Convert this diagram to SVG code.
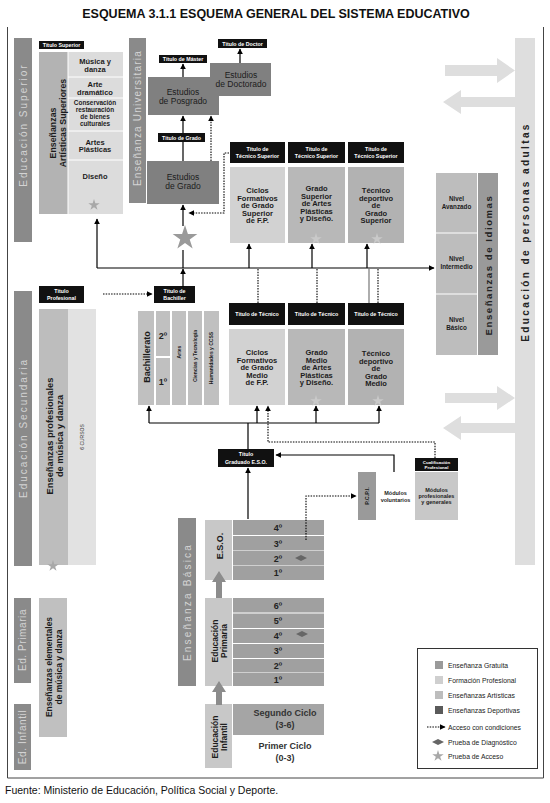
<svg xmlns="http://www.w3.org/2000/svg" xmlns:xlink="http://www.w3.org/1999/xlink" width="550" height="803" viewBox="0 0 550 803">
<style>
text{font-family:'Liberation Sans',Arial,sans-serif;}
.ttl{font-size:12.5px;font-weight:bold;fill:#111;}
.w{font-size:5.3px;font-weight:bold;fill:#fff;text-anchor:middle;}
.l{font-size:7.5px;font-weight:bold;fill:#1c1c1c;text-anchor:middle;}
.s{font-size:6.4px;}
.m{font-size:8.5px;fill:#1c1c1c;text-anchor:middle;}
.bar{font-size:10px;fill:#d4d4d4;text-anchor:middle;letter-spacing:2px;}
.bar2{font-size:9.5px;font-weight:bold;fill:#222;text-anchor:middle;letter-spacing:1.6px;}
.big{font-size:8.8px;font-weight:bold;fill:#1c1c1c;text-anchor:middle;}
.yr{font-size:9px;font-weight:bold;fill:#222;text-anchor:middle;}
.leg{font-size:6.8px;fill:#222;}
.blk{fill:#111;}
.ln{stroke:#000;stroke-width:1.2;fill:none;}
.dt{stroke:#000;stroke-width:1.1;fill:none;stroke-dasharray:1.5 1.2;}
.star{fill:#a8a8a8;}
.lst{fill:#c9c9c9;}
</style>
<defs>
<marker id="ah" viewBox="0 0 10 10" refX="9" refY="5" markerWidth="6" markerHeight="6" markerUnits="userSpaceOnUse" orient="auto"><path d="M0,0 L10,5 L0,10z" fill="#000"/></marker>
<path id="st" d="M0,-1 L0.2245,-0.309 L0.951,-0.309 L0.363,0.118 L0.588,0.809 L0,0.382 L-0.588,0.809 L-0.363,0.118 L-0.951,-0.309 L-0.2245,-0.309Z"/>
<path id="dia" d="M-6,0 L0,-3 L6,0 L0,3Z" fill="#666"/>
</defs>
<rect width="550" height="803" fill="#fff"/>
<text class="ttl" x="276" y="18" text-anchor="middle">ESQUEMA 3.1.1 ESQUEMA GENERAL DEL SISTEMA EDUCATIVO</text>
<path d="M7.5,27 V778 H543.5 V27" fill="none" stroke="#444" stroke-width="1"/>

<!-- left stage bars -->
<g id="ed-superior"><rect x="14" y="38" width="18" height="204" fill="#8a8a8a"/><text class="bar" transform="translate(26.5,125) rotate(-90)">Educación Superior</text></g>
<g id="ed-secundaria"><rect x="14" y="291" width="18" height="275" fill="#8a8a8a"/><text class="bar" transform="translate(26.5,428) rotate(-90)">Educación Secundaria</text></g>
<g id="ed-primaria"><rect x="14" y="598" width="17" height="85" fill="#8a8a8a"/><text class="bar" style="letter-spacing:0.6px" transform="translate(26,640) rotate(-90)">Ed. Primaria</text></g>
<g id="ed-infantil"><rect x="14" y="704" width="17" height="66" fill="#8a8a8a"/><text class="bar" style="letter-spacing:0.6px" transform="translate(26,737) rotate(-90)">Ed. Infantil</text></g>

<!-- Enseñanzas artísticas superiores -->
<g id="titulo-superior"><rect class="blk" x="39" y="41" width="45" height="8"/><text class="w" x="61.5" y="47">Título Superior</text></g>
<g id="artisticas-superiores">
<rect x="39" y="52" width="29" height="162" fill="#b3b3b3"/>
<rect x="68" y="52" width="55" height="162" fill="#dcdcdc"/>
<g stroke="#fff" stroke-width="1"><line x1="68" y1="77" x2="123" y2="77"/><line x1="68" y1="98" x2="123" y2="98"/><line x1="68" y1="131" x2="123" y2="131"/><line x1="68" y1="160" x2="123" y2="160"/><line x1="68" y1="52" x2="68" y2="214"/></g>
<text class="big" transform="translate(56,133) rotate(-90)">Enseñanzas</text>
<text class="big" transform="translate(65.5,123) rotate(-90)">Artísticas Superiores</text>
<text class="l" x="95" y="64">Música y</text><text class="l" x="95" y="71.5">danza</text>
<text class="l" x="95" y="87">Arte</text><text class="l" x="95" y="94.5">dramático</text>
<text class="l s" x="95" y="105">Conservación</text><text class="l s" x="95" y="112">restauración</text><text class="l s" x="95" y="119">de bienes</text><text class="l s" x="95" y="126">culturales</text>
<text class="l" x="95" y="144.5">Artes</text><text class="l" x="95" y="152">Plásticas</text>
<text class="l" x="95" y="179">Diseño</text>
<use xlink:href="#st" class="star" transform="translate(94,205) scale(6)"/>
</g>

<!-- Universitaria -->
<g id="ens-universitaria"><rect x="129" y="38" width="17" height="165" fill="#8a8a8a"/><text class="bar" style="letter-spacing:1.2px" transform="translate(141,118) rotate(-90)">Enseñanza Universitaria</text></g>
<g id="posgrado-doctorado">
<path d="M148,77 H210 V63 H271 V96 H219 V115 H148Z" fill="#808080"/>
<text class="m" x="183" y="95">Estudios</text><text class="m" x="183" y="104">de Posgrado</text>
<text class="m" x="241" y="78">Estudios</text><text class="m" x="241" y="87">de Doctorado</text>
</g>
<g id="titulo-master"><rect class="blk" x="159" y="55" width="48" height="8"/><text class="w" x="183" y="61">Título de Máster</text></g>
<g id="titulo-doctor"><rect class="blk" x="218" y="39" width="49" height="9"/><text class="w" x="242.5" y="45.5">Título de Doctor</text></g>
<g id="titulo-grado"><rect class="blk" x="158" y="133" width="47" height="9"/><text class="w" x="181.5" y="139.5">Título de Grado</text></g>
<g id="estudios-grado"><rect x="147" y="161" width="72" height="43" fill="#808080"/><text class="m" x="183" y="180">Estudios</text><text class="m" x="183" y="189">de Grado</text></g>
<g id="prueba-acceso-grado"><use xlink:href="#st" fill="#9a9a9a" transform="translate(185,238) scale(13)"/></g>

<!-- Técnico superior -->
<g id="ts-fp"><rect class="blk" x="230" y="142" width="55" height="21"/><text class="w" x="257.5" y="151">Título de</text><text class="w" x="257.5" y="158">Técnico Superior</text>
<rect x="230" y="167" width="55" height="76" fill="#d2d2d2"/>
<text class="l" x="257.5" y="193">Ciclos</text><text class="l" x="257.5" y="200.5">Formativos</text><text class="l" x="257.5" y="208">de Grado</text><text class="l" x="257.5" y="215.5">Superior</text><text class="l" x="257.5" y="223">de F.P.</text></g>
<g id="ts-artes"><rect class="blk" x="288" y="142" width="57" height="21"/><text class="w" x="316.5" y="151">Título de</text><text class="w" x="316.5" y="158">Técnico Superior</text>
<rect x="288" y="167" width="57" height="76" fill="#b8b8b8"/>
<text class="l" x="316.5" y="191">Grado</text><text class="l" x="316.5" y="198.5">Superior</text><text class="l" x="316.5" y="206">de Artes</text><text class="l" x="316.5" y="213.5">Plásticas</text><text class="l" x="316.5" y="221">y Diseño.</text>
<use xlink:href="#st" class="lst" transform="translate(316,239) scale(6)"/></g>
<g id="ts-deportivo"><rect class="blk" x="348" y="142" width="56" height="21"/><text class="w" x="376" y="151">Título de</text><text class="w" x="376" y="158">Técnico Superior</text>
<rect x="348" y="167" width="56" height="76" fill="#b2b2b2"/>
<text class="l" x="376" y="193">Técnico</text><text class="l" x="376" y="200.5">deportivo</text><text class="l" x="376" y="208">de</text><text class="l" x="376" y="215.5">Grado</text><text class="l" x="376" y="223">Superior</text>
<use xlink:href="#st" class="lst" transform="translate(377,239) scale(6)"/></g>

<!-- Idiomas -->
<g id="idiomas">
<rect x="436" y="173" width="41" height="182" fill="#bdbdbd"/>
<g stroke="#fff" stroke-width="1"><line x1="436" y1="233" x2="477" y2="233"/><line x1="436" y1="294" x2="477" y2="294"/></g>
<rect x="478" y="173" width="20" height="182" fill="#9a9a9a"/>
<text class="l" style="font-size:6.3px" x="456.5" y="201">Nivel</text><text class="l" style="font-size:6.3px" x="456.5" y="209">Avanzado</text>
<text class="l" style="font-size:6.3px" x="456.5" y="261">Nivel</text><text class="l" style="font-size:6.3px" x="456.5" y="269">Intermedio</text>
<text class="l" style="font-size:6.3px" x="456.5" y="322">Nivel</text><text class="l" style="font-size:6.3px" x="456.5" y="330">Básico</text>
<text class="bar2" transform="translate(491.5,265) rotate(-90)">Enseñanzas de Idiomas</text>
</g>

<!-- Adultos -->
<g id="adultos">
<rect x="515" y="38" width="20" height="527" fill="#dedede"/>
<path d="M445,65 H497 V58 L515,70.5 L497,83 V76 H445Z" fill="#dedede"/>
<path d="M515,97 H461 V90 L443,102 L461,114 V107 H515Z" fill="#dedede"/>
<path d="M445,393 H497 V386 L515,398 L497,410 V403 H445Z" fill="#dedede"/>
<path d="M515,423 H461 V416 L443,428 L461,440 V433 H515Z" fill="#dedede"/>
<text class="bar2" style="letter-spacing:2.4px;font-size:10px" transform="translate(528.5,232) rotate(-90)">Educación de personas adultas</text>
</g>

<!-- Secundaria -->
<g id="titulo-profesional"><rect class="blk" x="39" y="286" width="45" height="17"/><text class="w" x="61.5" y="293">Título</text><text class="w" x="61.5" y="300">Profesional</text></g>
<g id="titulo-bachiller"><rect class="blk" x="154" y="286" width="41" height="17"/><text class="w" x="174.5" y="293">Título de</text><text class="w" x="174.5" y="300">Bachiller</text></g>
<g id="profesionales-musica">
<rect x="39" y="309" width="29" height="256" fill="#bdbdbd"/>
<rect x="68" y="309" width="28" height="256" fill="#e2e2e2"/>
<text class="big" style="font-size:9.3px" transform="translate(52.5,436) rotate(-90)">Enseñanzas profesionales</text>
<text class="big" style="font-size:9.3px" transform="translate(62.5,436) rotate(-90)">de música y danza</text>
<text class="w" style="fill:#333;font-weight:normal;font-size:5px" transform="translate(84,437) rotate(-90)">6 CURSOS</text>
<use xlink:href="#st" class="star" transform="translate(53,566) scale(6)"/>
</g>
<g id="bachillerato">
<rect x="138" y="311" width="16" height="94" fill="#c0c0c0"/>
<rect x="156" y="311" width="14" height="45" fill="#c0c0c0"/>
<rect x="156" y="358" width="14" height="47" fill="#c0c0c0"/>
<rect x="172" y="311" width="14" height="94" fill="#c0c0c0"/>
<rect x="188" y="311" width="14" height="94" fill="#c0c0c0"/>
<rect x="204" y="311" width="15" height="94" fill="#c0c0c0"/>
<text class="big" style="font-size:9px" transform="translate(149.5,357) rotate(-90)">Bachillerato</text>
<text class="yr" x="163" y="339">2º</text><text class="yr" x="163" y="385">1º</text>
<text class="l" style="font-size:5px" transform="translate(180.5,352) rotate(-90)">Artes</text>
<text class="l" style="font-size:5px" transform="translate(196.5,356) rotate(-90)">Ciencias y Tecnología</text>
<text class="l" style="font-size:5px" transform="translate(213,358) rotate(-90)">Humanidades y CCSS</text>
</g>

<!-- Técnico (grado medio) -->
<g id="tm-fp"><rect class="blk" x="229" y="303" width="56" height="22"/><text class="w" x="257" y="316">Título de Técnico</text>
<rect x="229" y="329" width="56" height="76" fill="#d2d2d2"/>
<text class="l" x="257" y="355">Ciclos</text><text class="l" x="257" y="362.5">Formativos</text><text class="l" x="257" y="370">de Grado</text><text class="l" x="257" y="377.5">Medio</text><text class="l" x="257" y="385">de F.P.</text></g>
<g id="tm-artes"><rect class="blk" x="288" y="303" width="57" height="22"/><text class="w" x="316.5" y="316">Título de Técnico</text>
<rect x="288" y="329" width="57" height="76" fill="#b8b8b8"/>
<text class="l" x="316.5" y="355">Grado</text><text class="l" x="316.5" y="362.5">Medio</text><text class="l" x="316.5" y="370">de Artes</text><text class="l" x="316.5" y="377.5">Plásticas</text><text class="l" x="316.5" y="385">y Diseño.</text>
<use xlink:href="#st" class="lst" transform="translate(316,401) scale(6)"/></g>
<g id="tm-deportivo"><rect class="blk" x="348" y="303" width="56" height="22"/><text class="w" x="376" y="316">Título de Técnico</text>
<rect x="348" y="329" width="56" height="76" fill="#b2b2b2"/>
<text class="l" x="376" y="356">Técnico</text><text class="l" x="376" y="363.5">deportivo</text><text class="l" x="376" y="371">de</text><text class="l" x="376" y="378.5">Grado</text><text class="l" x="376" y="386">Medio</text>
<use xlink:href="#st" class="lst" transform="translate(378,401) scale(6)"/></g>

<!-- ESO area -->
<g id="titulo-eso"><rect class="blk" x="218" y="449" width="56" height="18"/><text class="w" x="246" y="456">Título</text><text class="w" x="246" y="463.5">Graduado E.S.O.</text></g>
<g id="cualificacion"><rect class="blk" x="415" y="458" width="43" height="13"/><text class="w" style="font-size:4.4px" x="436.5" y="463.5">Cualificación</text><text class="w" style="font-size:4.4px" x="436.5" y="468.5">Profesional</text></g>
<g id="pcpi">
<rect x="358" y="472" width="18" height="48" fill="#9a9a9a"/>
<rect x="376" y="472" width="39" height="48" fill="#fff"/>
<rect x="415" y="472" width="43" height="48" fill="#c8c8c8"/>
<text class="l" style="font-size:5.5px" transform="translate(369,496) rotate(-90)">P.C.P.I.</text>
<text class="l" style="font-size:5.5px" x="395.5" y="495">Módulos</text><text class="l" style="font-size:5.5px" x="395.5" y="502">voluntarios</text>
<text class="l" style="font-size:5.5px" x="436.5" y="491.5">Módulos</text><text class="l" style="font-size:5.5px" x="436.5" y="497.5">profesionales</text><text class="l" style="font-size:5.5px" x="436.5" y="503.5">y generales</text>
</g>
<g id="ens-basica"><rect x="178" y="518" width="18" height="168" fill="#8a8a8a"/><text class="bar" style="letter-spacing:2.2px" transform="translate(190.5,602) rotate(-90)">Enseñanza Básica</text></g>
<g id="eso">
<rect x="205" y="520" width="27" height="60" fill="#c8c8c8"/>
<rect x="233" y="520" width="91" height="15" fill="#a0a0a0"/>
<rect x="233" y="536" width="91" height="14.5" fill="#a0a0a0"/>
<rect x="233" y="551" width="91" height="14.5" fill="#a0a0a0"/>
<rect x="233" y="566" width="91" height="14" fill="#a0a0a0"/>
<text class="big" style="font-size:9px" transform="translate(222.5,546) rotate(-90)">E.S.O.</text>
<text class="yr" x="278" y="531">4º</text><text class="yr" x="278" y="546.5">3º</text><text class="yr" x="278" y="561.5">2º</text><text class="yr" x="278" y="576">1º</text>
<use xlink:href="#dia" transform="translate(301,558)"/>
</g>
<g id="primaria">
<rect x="205" y="598" width="27" height="88" fill="#c8c8c8"/>
<rect x="233" y="598" width="91" height="14.5" fill="#a0a0a0"/>
<rect x="233" y="613.5" width="91" height="14.5" fill="#a0a0a0"/>
<rect x="233" y="629" width="91" height="14" fill="#a0a0a0"/>
<rect x="233" y="644" width="91" height="14" fill="#a0a0a0"/>
<rect x="233" y="659" width="91" height="13.5" fill="#a0a0a0"/>
<rect x="233" y="673" width="91" height="13" fill="#a0a0a0"/>
<text class="big" style="font-size:8.5px" transform="translate(217.5,641) rotate(-90)">Educación</text>
<text class="big" style="font-size:8.5px" transform="translate(226.5,641) rotate(-90)">Primaria</text>
<text class="yr" x="278" y="608.5">6º</text><text class="yr" x="278" y="623.5">5º</text><text class="yr" x="278" y="639">4º</text><text class="yr" x="278" y="654">3º</text><text class="yr" x="278" y="668.5">2º</text><text class="yr" x="278" y="682.5">1º</text>
<use xlink:href="#dia" transform="translate(302,634)"/>
</g>
<g id="infantil">
<rect x="205" y="704" width="27" height="64" fill="#c8c8c8"/>
<rect x="233" y="704" width="91" height="31" fill="#a5a5a5"/>
<rect x="233" y="735" width="91" height="33" fill="#fff"/>
<text class="big" style="font-size:8.5px" transform="translate(217.5,737) rotate(-90)">Educación</text>
<text class="big" style="font-size:8.5px" transform="translate(226.5,737) rotate(-90)">Infantil</text>
<text class="m" style="font-size:9px;font-weight:bold;fill:#333" x="285" y="716">Segundo Ciclo</text><text class="m" style="font-size:9px;font-weight:bold;fill:#333" x="285" y="728">(3-6)</text>
<text class="m" style="font-size:9px;font-weight:bold;fill:#333" x="285" y="749">Primer Ciclo</text><text class="m" style="font-size:9px;font-weight:bold;fill:#333" x="285" y="761">(0-3)</text>
</g>
<g id="elementales-musica">
<rect x="39" y="598" width="28" height="139" fill="#c0c0c0"/>
<text class="big" style="font-size:8.5px" transform="translate(52,667) rotate(-90)">Enseñanzas elementales</text>
<text class="big" style="font-size:8.5px" transform="translate(61.5,667) rotate(-90)">de música y danza</text>
</g>

<!-- connectors -->
<g id="connectors">
<path class="ln" d="M97,268 V219" marker-end="url(#ah)"/>
<path class="ln" d="M97,268 H434" marker-end="url(#ah)"/>
<path class="ln" d="M183,268 V250"/>
<path class="ln" d="M183,226 V205" marker-end="url(#ah)"/>
<path class="ln" d="M183,161 V142"/>
<path class="ln" d="M183,133 V116" marker-end="url(#ah)"/>
<path class="dt" d="M211,161 V116" marker-end="url(#ah)"/>
<path class="ln" d="M183,77 V64" marker-end="url(#ah)"/>
<path class="ln" d="M240,63 V49" marker-end="url(#ah)"/>
<path class="dt" d="M229,153 H224 V213 H189" marker-end="url(#ah)"/>
<path class="ln" d="M249,268 V244" marker-end="url(#ah)"/>
<path class="ln" d="M312,268 V244" marker-end="url(#ah)"/>
<path class="ln" d="M367,268 V244" marker-end="url(#ah)"/>
<path class="ln" d="M183,287 V269" marker-end="url(#ah)"/>
<path class="dt" d="M103,294 H152" marker-end="url(#ah)"/>
<path class="dt" d="M258,303 V269"/>
<path class="dt" d="M317,303 V269"/>
<path class="dt" d="M378,303 V269"/>
<path d="M369,303 V268" stroke="#777" stroke-width="1.2" fill="none"/>
<path class="ln" d="M149,423 H379"/>
<path class="ln" d="M149,423 V406" marker-end="url(#ah)"/>
<path class="ln" d="M257,423 V406" marker-end="url(#ah)"/>
<path class="ln" d="M316,423 V406" marker-end="url(#ah)"/>
<path class="ln" d="M379,423 V406" marker-end="url(#ah)"/>
<path class="ln" d="M248,449 V423"/>
<path class="dt" d="M435,458 V442 H268 V406" marker-end="url(#ah)"/>
<path class="ln" d="M248,519 V468" marker-end="url(#ah)"/>
<path class="ln" d="M394,472 V455 H276" marker-end="url(#ah)"/>
<path class="dt" d="M306,540 V496 H356" marker-end="url(#ah)"/>
<path d="M216,598 V582 H212 L219,571 L226,582 H222 V598Z" fill="#8c8c8c"/>
<path d="M216,705 V692 H212 L219,681 L226,692 H222 V705Z" fill="#8c8c8c"/>
</g>

<!-- legend -->
<g id="legend">
<rect x="417.5" y="648.5" width="120" height="120" fill="#fff" stroke="#333" stroke-width="1"/>
<rect x="435" y="661" width="8" height="8" fill="#9a9a9a"/><text class="leg" x="448" y="667.5">Enseñanza Gratuita</text>
<rect x="435" y="676" width="8" height="8" fill="#cfcfcf"/><text class="leg" x="448" y="682.5">Formación Profesional</text>
<rect x="435" y="691" width="8" height="8" fill="#bdbdbd"/><text class="leg" x="448" y="697.5">Enseñanzas Artísticas</text>
<rect x="435" y="706" width="8" height="8" fill="#5a5a5a"/><text class="leg" x="448" y="712.5">Enseñanzas Deportivas</text>
<path class="dt" d="M427,727 H445" marker-end="url(#ah)"/><text class="leg" x="448" y="729.5">Acceso con condiciones</text>
<use xlink:href="#dia" transform="translate(438,742)"/><text class="leg" x="448" y="744.5">Prueba de Diagnóstico</text>
<use xlink:href="#st" class="star" transform="translate(438,756) scale(6)"/><text class="leg" x="448" y="759">Prueba de Acceso</text>
</g>

<text x="5" y="794" style="font-size:10.5px;fill:#111">Fuente: Ministerio de Educación, Política Social y Deporte.</text>
</svg>
